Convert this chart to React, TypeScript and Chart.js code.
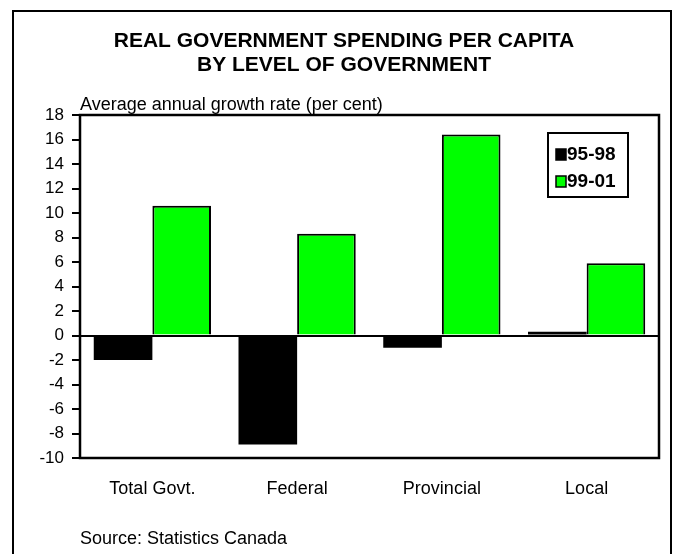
import React, { useEffect, useRef } from "react";
import { Chart, registerables } from "chart.js";

Chart.register(...registerables);

const titleLines = ["REAL GOVERNMENT SPENDING PER CAPITA", "BY LEVEL OF GOVERNMENT"];
const axisNote = "Average annual growth rate (per cent)";
const sourceNote = "Source: Statistics Canada";
const categories = ["Total Govt.", "Federal", "Provincial", "Local"];
const series1Label = "95-98";
const series1 = [-2.0, -8.9, -1.0, 0.3];
const series2Label = "99-01";
const series2 = [10.6, 8.3, 16.4, 5.9];
const yMin = -10;
const yMax = 18;
const yStep = 2;

const W = 677;
const H = 554;
const FONT = "'Liberation Sans', Arial, Helvetica, sans-serif";
const BLACK = "#000000";
const GREEN = "#00ff00";

const decor = {
  id: "decor",
  beforeDraw(chart: any) {
    const ctx = chart.ctx;
    ctx.save();
    ctx.fillStyle = "#ffffff";
    ctx.fillRect(0, 0, W, H);
    ctx.strokeStyle = BLACK;
    ctx.lineWidth = 2;
    ctx.strokeRect(13, 11, 658, 580);
    ctx.fillStyle = BLACK;
    ctx.textAlign = "center";
    ctx.textBaseline = "alphabetic";
    ctx.font = `bold 21px ${FONT}`;
    ctx.fillText(titleLines[0], 344, 47);
    ctx.fillText(titleLines[1], 344, 71);
    ctx.textAlign = "left";
    ctx.font = `18px ${FONT}`;
    ctx.fillText(axisNote, 80, 110);
    ctx.fillText(sourceNote, 80, 544);
    ctx.restore();
  },
  afterDatasetsDraw(chart: any) {
    const ctx = chart.ctx;
    const a = chart.chartArea;
    const y = chart.scales.y;
    ctx.save();
    ctx.strokeStyle = BLACK;
    const y0 = Math.round(y.getPixelForValue(0));
    ctx.lineWidth = 2;
    ctx.beginPath();
    ctx.moveTo(a.left, y0);
    ctx.lineTo(a.right, y0);
    ctx.stroke();
    ctx.lineWidth = 2.5;
    ctx.strokeRect(a.left, a.top, a.right - a.left, a.bottom - a.top);

    // legend
    const ds = chart.data.datasets;
    ctx.lineWidth = 2;
    ctx.fillStyle = "#ffffff";
    ctx.fillRect(548, 133, 80, 64);
    ctx.strokeRect(548, 133, 80, 64);
    ctx.font = `bold 19px ${FONT}`;
    ctx.textBaseline = "middle";
    ctx.textAlign = "left";
    const rows = [154, 181];
    ds.forEach((d: any, i: number) => {
      const cy = rows[i];
      ctx.fillStyle = d.backgroundColor;
      ctx.fillRect(556, cy - 5, 10, 11);
      ctx.lineWidth = 1.5;
      ctx.strokeStyle = BLACK;
      ctx.strokeRect(556, cy - 5, 10, 11);
      ctx.fillStyle = BLACK;
      ctx.fillText(d.label, 567, cy + 1);
    });
    ctx.restore();
  },
};

export default function App() {
  const ref = useRef<HTMLCanvasElement | null>(null);
  useEffect(() => {
    if (!ref.current) return;
    const chart = new Chart(ref.current, {
      type: "bar",
      data: {
        labels: categories,
        datasets: [
          {
            label: series1Label,
            data: series1,
            backgroundColor: BLACK,
            borderWidth: 0,
            categoryPercentage: 0.81,
            barPercentage: 1,
          },
          {
            label: series2Label,
            data: series2,
            backgroundColor: GREEN,
            borderColor: BLACK,
            borderWidth: 2,
            categoryPercentage: 0.81,
            barPercentage: 1,
          },
        ],
      },
      options: {
        responsive: false,
        animation: false,
        devicePixelRatio: 1,
        layout: { padding: { top: 115, right: 18, left: 0, bottom: 0 } },
        plugins: {
          legend: { display: false },
          tooltip: { enabled: false },
          title: { display: false },
        },
        scales: {
          x: {
            grid: { display: false, drawTicks: false },
            border: { display: false },
            ticks: { color: BLACK, font: { family: FONT, size: 18 }, padding: 20 },
            afterFit: (s: any) => {
              s.height = 96;
            },
          },
          y: {
            min: yMin,
            max: yMax,
            border: { display: false },
            grid: {
              drawOnChartArea: false,
              drawTicks: true,
              tickLength: 8,
              color: BLACK,
              lineWidth: 2,
            },
            ticks: {
              stepSize: yStep,
              color: BLACK,
              padding: 8,
              font: { family: FONT, size: 17 },
            },
            afterFit: (s: any) => {
              s.width = 80;
            },
          },
        },
      },
      plugins: [decor],
    });
    return () => chart.destroy();
  }, []);
  return (
    <div style={{ position: "absolute", left: 0, top: 0, width: W, height: H }}>
      <canvas ref={ref} width={W} height={H} style={{ display: "block", width: W, height: H }} />
    </div>
  );
}
